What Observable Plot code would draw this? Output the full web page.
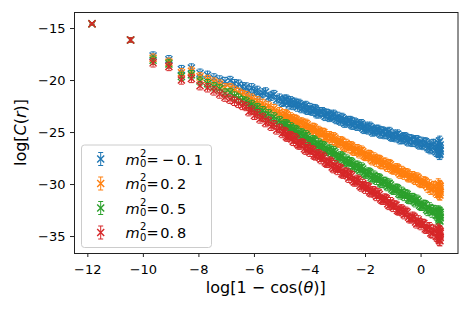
<!DOCTYPE html>
<html><head><meta charset="utf-8">
<script src="https://cdn.jsdelivr.net/npm/d3@7"></script>
<script src="https://cdn.jsdelivr.net/npm/@observablehq/plot@0.6"></script>
<style>body{margin:0;background:#fff}</style>
</head><body><div id="chart"></div>
<script>
// x = log[1 - cos(theta)] sample positions (shared by all series)
const xs = [
  -11.85,-10.46,-9.65,-9.08,-8.63,-8.27,-7.96,-7.69,-7.46,-7.25,-7.06,-6.88,-6.72,-6.57,-6.43,
  -6.3,-6.2,-6.1,-6.0,-5.9,-5.8,-5.7,-5.6,-5.5,-5.4,
  -5.3,-5.2,-5.1,-5.0,-4.9,-4.8,-4.7,-4.6,-4.5,-4.4,
  -4.3,-4.2,-4.1,-4.0,-3.9,-3.8,-3.7,-3.6,-3.5,-3.4,
  -3.3,-3.2,-3.1,-3.0,-2.9,-2.8,-2.7,-2.6,-2.5,-2.4,
  -2.3,-2.2,-2.1,-2.0,-1.9,-1.8,-1.7,-1.6,-1.5,-1.4,
  -1.3,-1.2,-1.1,-1.0,-0.9,-0.8,-0.7,-0.6,-0.5,-0.4,
  -0.3,-0.2,-0.1,0.0,0.1,0.2,0.3,0.4,0.5,0.6,
  0.62,0.64,0.65,0.66,0.67,0.68,0.68,0.69,0.69,0.69,
  -4.95,-4.85,-4.75,-4.65,-4.55,-4.45,-4.35,-4.25,-4.15,-4.05,
  -3.95,-3.85,-3.75,-3.65,-3.55,-3.45,-3.35,-3.25,-3.15,-3.05,
  -2.95,-2.85,-2.75,-2.65,-2.55,-2.45,-2.35,-2.25,-2.15,-2.05,
  -1.95,-1.85,-1.75,-1.65,-1.55,-1.45,-1.35,-1.25,-1.15,-1.05,
  -0.95,-0.85,-0.75,-0.65,-0.55,-0.45,-0.35,-0.25,-0.15,-0.05,
  0.05,0.15,0.25,0.35,0.45,0.55
];
// error bar half-lengths
const yerr = [
  0.1,0.2,0.4,0.4,0.4,0.4,0.4,0.4,0.4,0.4,0.4,0.4,0.4,0.4,0.4,
  0.4,0.4,0.4,0.4,0.4,0.4,0.4,0.4,0.4,0.4,
  0.4,0.4,0.4,0.4,0.4,0.4,0.4,0.4,0.4,0.4,
  0.4,0.4,0.4,0.4,0.4,0.4,0.4,0.4,0.4,0.4,
  0.4,0.4,0.4,0.4,0.4,0.4,0.4,0.4,0.4,0.4,
  0.4,0.4,0.4,0.4,0.4,0.4,0.4,0.4,0.4,0.4,
  0.4,0.4,0.4,0.4,0.4,0.4,0.4,0.4,0.4,0.4,
  0.4,0.4,0.4,0.4,0.4,0.4,0.45,0.45,0.45,0.45,
  0.5,0.5,0.5,0.5,0.5,0.5,0.5,0.5,0.5,0.5,
  0.4,0.4,0.4,0.4,0.4,0.4,0.4,0.4,0.4,0.4,
  0.4,0.4,0.4,0.4,0.4,0.4,0.4,0.4,0.4,0.4,
  0.4,0.4,0.4,0.4,0.4,0.4,0.4,0.4,0.4,0.4,
  0.4,0.4,0.4,0.4,0.4,0.4,0.4,0.4,0.4,0.4,
  0.4,0.4,0.4,0.4,0.4,0.4,0.4,0.4,0.4,0.4,
  0.4,0.4,0.45,0.45,0.45,0.45
];
// log C(r) for m0^2 = -0.1
const yA = [
  -14.55,-16.1,-17.65,-18.0,-18.95,-18.8,-19.3,-19.5,-19.75,-19.95,-20.1,-20.0,-20.3,-20.35,-20.6,
  -20.62,-21.0,-20.7,-21.05,-20.95,-21.4,-21.2,-21.1,-21.6,-21.5,
  -21.35,-21.85,-21.7,-22.1,-21.8,-22.1,-21.95,-22.4,-22.25,-22.2,
  -22.7,-22.5,-22.85,-22.6,-22.95,-22.75,-23.2,-23.0,-23.3,-23.15,
  -23.55,-23.35,-23.6,-23.45,-23.9,-23.7,-24.05,-23.85,-24.25,-24.0,
  -24.4,-24.2,-24.55,-24.4,-24.75,-24.55,-24.9,-24.7,-25.05,-24.85,
  -25.2,-25.0,-25.35,-25.15,-25.5,-25.3,-25.65,-25.4,-25.8,-25.6,
  -25.95,-25.7,-26.1,-25.85,-26.25,-26.0,-26.5,-26.15,-26.7,-26.3,
  -26.0,-26.9,-26.4,-27.1,-25.85,-26.7,-27.05,-26.2,-26.8,-26.55,
  -22.0,-21.8,-22.35,-22.1,-22.1,-22.55,-22.35,-22.6,-22.4,-22.85,
  -22.9,-22.7,-23.2,-23.0,-23.0,-23.45,-23.2,-23.45,-23.25,-23.75,
  -23.8,-23.55,-24.1,-23.9,-23.85,-24.3,-24.1,-24.35,-24.15,-24.7,
  -24.65,-24.4,-24.95,-24.75,-24.7,-25.15,-24.9,-25.15,-24.9,-25.45,
  -25.4,-25.15,-25.7,-25.5,-25.45,-25.9,-25.65,-25.9,-25.7,-26.2,
  -26.15,-25.9,-26.45,-26.6,-26.1,-26.85
];
// m0^2 = 0.2
const yB = [
  -14.55,-16.1,-17.85,-18.25,-19.25,-19.1,-19.65,-19.9,-20.15,-20.35,-20.7,-20.7,-20.95,-21.15,-21.35,
  -21.45,-21.9,-21.7,-22.15,-21.95,-22.4,-22.2,-22.65,-22.45,-22.9,
  -22.7,-23.15,-23.0,-23.45,-23.2,-23.65,-23.5,-23.95,-23.75,-24.2,
  -24.0,-24.45,-24.25,-24.75,-24.5,-24.95,-24.8,-25.25,-25.0,-25.5,
  -25.3,-25.75,-25.55,-26.0,-25.8,-26.3,-26.05,-26.55,-26.3,-26.8,
  -26.55,-27.05,-26.85,-27.3,-27.1,-27.55,-27.35,-27.85,-27.6,-28.1,
  -27.85,-28.35,-28.1,-28.6,-28.4,-28.85,-28.65,-29.1,-28.9,-29.35,
  -29.15,-29.6,-29.4,-29.9,-29.65,-30.1,-30.0,-30.45,-30.2,-30.7,
  -29.95,-30.8,-30.3,-30.95,-30.1,-30.6,-31.0,-30.4,-30.75,-30.2,
  -23.43,-23.26,-23.84,-23.67,-23.7,-24.18,-24.01,-24.29,-24.12,-24.64,
  -24.72,-24.55,-25.13,-24.96,-24.99,-25.47,-25.3,-25.58,-25.41,-25.93,
  -26.01,-25.84,-26.42,-26.25,-26.28,-26.76,-26.59,-26.87,-26.7,-27.22,
  -27.3,-27.13,-27.71,-27.54,-27.57,-28.05,-27.88,-28.16,-27.99,-28.51,
  -28.59,-28.42,-29.0,-28.83,-28.86,-29.34,-29.17,-29.45,-29.28,-29.8,
  -29.88,-29.71,-30.29,-30.5,-30.15,-30.8
];
// m0^2 = 0.5
const yC = [
  -14.55,-16.1,-18.05,-18.4,-19.6,-19.45,-20.05,-20.3,-20.6,-20.8,-21.2,-21.15,-21.5,-21.7,-21.95,
  -22.0,-22.45,-22.3,-22.75,-22.6,-23.1,-22.9,-23.4,-23.2,-23.7,
  -23.5,-24.0,-23.85,-24.35,-24.15,-24.65,-24.45,-24.95,-24.75,-25.25,
  -25.05,-25.55,-25.4,-25.9,-25.7,-26.2,-26.0,-26.5,-26.3,-26.8,
  -26.6,-27.1,-26.95,-27.45,-27.25,-27.75,-27.55,-28.05,-27.85,-28.35,
  -28.15,-28.65,-28.5,-29.0,-28.8,-29.3,-29.1,-29.6,-29.4,-29.9,
  -29.7,-30.2,-30.05,-30.55,-30.35,-30.85,-30.65,-31.15,-30.95,-31.45,
  -31.25,-31.75,-31.6,-32.1,-31.9,-32.4,-32.2,-32.7,-32.5,-33.0,
  -32.55,-33.3,-32.8,-33.45,-32.65,-33.1,-33.5,-32.9,-33.2,-32.7,
  -24.33,-24.19,-24.79,-24.65,-24.7,-25.21,-25.06,-25.37,-25.22,-25.78,
  -25.88,-25.74,-26.34,-26.2,-26.25,-26.76,-26.61,-26.92,-26.77,-27.33,
  -27.43,-27.29,-27.89,-27.75,-27.8,-28.31,-28.16,-28.47,-28.32,-28.88,
  -28.98,-28.84,-29.44,-29.3,-29.35,-29.86,-29.71,-30.02,-29.87,-30.43,
  -30.53,-30.39,-30.99,-30.85,-30.9,-31.41,-31.26,-31.57,-31.42,-31.98,
  -32.08,-31.94,-32.54,-32.4,-32.45,-32.96
];
// m0^2 = 0.8
const yD = [
  -14.55,-16.1,-18.3,-18.65,-19.95,-19.8,-20.5,-20.7,-21.0,-21.3,-21.6,-21.8,-22.0,-22.2,-22.4,
  -22.5,-23.0,-22.85,-23.35,-23.2,-23.7,-23.55,-24.05,-23.9,-24.4,
  -24.25,-24.75,-24.6,-25.1,-24.95,-25.45,-25.3,-25.85,-25.65,-26.2,
  -26.0,-26.55,-26.35,-26.9,-26.7,-27.25,-27.05,-27.6,-27.4,-27.95,
  -27.75,-28.3,-28.1,-28.65,-28.45,-29.0,-28.8,-29.4,-29.15,-29.75,
  -29.5,-30.1,-29.9,-30.45,-30.25,-30.8,-30.6,-31.15,-30.95,-31.5,
  -31.3,-31.85,-31.65,-32.2,-32.0,-32.55,-32.35,-32.9,-32.7,-33.3,
  -33.05,-33.6,-33.4,-33.95,-33.75,-34.3,-34.1,-34.7,-34.45,-35.05,
  -34.3,-35.2,-34.6,-35.35,-34.45,-34.95,-35.4,-34.7,-35.1,-34.55,
  -24.89,-25.41,-25.29,-25.62,-25.49,-26.07,-26.2,-26.07,-26.7,-26.58,
  -26.66,-27.18,-27.06,-27.39,-27.26,-27.84,-27.97,-27.84,-28.47,-28.35,
  -28.43,-28.95,-28.83,-29.16,-29.03,-29.61,-29.74,-29.61,-30.24,-30.12,
  -30.2,-30.72,-30.6,-30.93,-30.8,-31.38,-31.51,-31.38,-32.01,-31.89,
  -31.97,-32.49,-32.37,-32.7,-32.57,-33.15,-33.28,-33.15,-33.78,-33.66,
  -33.74,-34.26,-34.14,-34.65,-34.34,-35.0
];
const m0sq = ["\u22120.1", "0.2", "0.5", "0.8"];
const colors = ["#1f77b4", "#ff7f0e", "#2ca02c", "#d62728"];
const xTicks = [-12, -10, -8, -6, -4, -2, 0];
const yTicks = [-35, -30, -25, -20, -15];

const seriesY = [yA, yB, yC, yD];
const series = seriesY.map((ys, k) => ({
  color: colors[k],
  rows: xs.map((x, i) => ({x, y: ys[i], lo: ys[i] - yerr[i], hi: ys[i] + yerr[i]}))
}));

const capSymbol = {draw(ctx, size) { const r = Math.sqrt(size / Math.PI); ctx.moveTo(-r, 0); ctx.lineTo(r, 0); }};
const fmt = d => d < 0 ? "\u2212" + Math.abs(d) : String(d);

const W = 469, H = 313, ML = 74, MR = 11.5, MT = 12, MB = 60;
const svg = Plot.plot({
  width: W, height: H,
  marginLeft: ML, marginRight: MR, marginTop: MT, marginBottom: MB,
  style: {fontFamily: "DejaVu Sans", fontSize: "13px", color: "#000", background: "#fff", overflow: "visible"},
  x: {domain: [-12.48, 1.33]},
  y: {domain: [-36.63, -13.46]},
  marks: [
    ...series.flatMap(s => [
      Plot.ruleX(s.rows, {x: "x", y1: "lo", y2: "hi", stroke: s.color, strokeWidth: 1}),
      Plot.dot(s.rows, {x: "x", y: "hi", symbol: capSymbol, r: 2.5, stroke: s.color, fill: "none", strokeWidth: 1}),
      Plot.dot(s.rows, {x: "x", y: "lo", symbol: capSymbol, r: 2.5, stroke: s.color, fill: "none", strokeWidth: 1}),
      Plot.dot(s.rows, {x: "x", y: "y", symbol: "times", r: 3.3, stroke: s.color, strokeWidth: 1.4})
    ]),
    Plot.axisX({ticks: xTicks, tickSize: 4, tickPadding: 7, tickFormat: fmt, label: null, stroke: "#222"}),
    Plot.axisY({ticks: yTicks, tickSize: 4, tickPadding: 5, tickFormat: fmt, label: null, stroke: "#222"}),
    Plot.frame({stroke: "#222", strokeWidth: 1})
  ]
});
document.getElementById("chart").appendChild(svg);

const g = d3.select(svg).append("g").attr("font-family", "DejaVu Sans").attr("fill", "#000");
// x label
const xl = g.append("text").attr("x", (ML + W - MR) / 2).attr("y", 292.5)
  .attr("text-anchor", "middle").attr("font-size", 16);
xl.append("tspan").text("log[1 \u2212 cos(");
xl.append("tspan").attr("font-style", "italic").text("\u03b8");
xl.append("tspan").text(")]");
// y label
const yl = g.append("text").attr("transform", `translate(26,${(MT + H - MB) / 2}) rotate(-90)`)
  .attr("text-anchor", "middle").attr("font-size", 16);
yl.append("tspan").text("log[");
yl.append("tspan").attr("font-style", "italic").text("C");
yl.append("tspan").text("(");
yl.append("tspan").attr("font-style", "italic").text("r");
yl.append("tspan").text(")]");

// legend
const lg = g.append("g").attr("text-anchor", "start");
lg.append("rect").attr("x", 81.5).attr("y", 145).attr("width", 130).attr("height", 102.5)
  .attr("rx", 3).attr("fill", "#fff").attr("fill-opacity", 0.8).attr("stroke", "#cccccc").attr("stroke-width", 1);
const rowsY = [159, 183.5, 208, 232.5];
m0sq.forEach((lab, k) => {
  const yy = rowsY[k], xx = 100.7, c = colors[k];
  lg.append("line").attr("x1", xx).attr("x2", xx).attr("y1", yy - 6.5).attr("y2", yy + 6.5).attr("stroke", c).attr("stroke-width", 1);
  lg.append("line").attr("x1", xx - 2.5).attr("x2", xx + 2.5).attr("y1", yy - 6.5).attr("y2", yy - 6.5).attr("stroke", c).attr("stroke-width", 1);
  lg.append("line").attr("x1", xx - 2.5).attr("x2", xx + 2.5).attr("y1", yy + 6.5).attr("y2", yy + 6.5).attr("stroke", c).attr("stroke-width", 1);
  lg.append("path").attr("d", `M${xx-3.5},${yy-3.5}L${xx+3.5},${yy+3.5}M${xx-3.5},${yy+3.5}L${xx+3.5},${yy-3.5}`)
    .attr("stroke", c).attr("stroke-width", 1.4).attr("fill", "none");
  lg.append("text").attr("text-anchor", "start").attr("x", 125.5).attr("y", yy + 5.5).attr("font-size", 14.5).attr("font-style", "italic").text("m");
  lg.append("text").attr("text-anchor", "start").attr("x", 140).attr("y", yy - 2.5).attr("font-size", 10).text("2");
  lg.append("text").attr("text-anchor", "start").attr("x", 140).attr("y", yy + 8).attr("font-size", 10).text("0");
  const t = lg.append("text").attr("text-anchor", "start").attr("x", 146.5).attr("y", yy + 5.5).attr("font-size", 14.5);
  t.append("tspan").text("=");
  const neg = lab.startsWith("\u2212");
  const num = neg ? lab.slice(1) : lab;
  const [ip, fp] = num.split(".");
  if (neg) {
    t.append("tspan").attr("dx", 3).text("\u2212");
    t.append("tspan").attr("dx", 3).text(ip + ".");
  } else {
    t.append("tspan").attr("dx", 1.5).text(ip + ".");
  }
  t.append("tspan").attr("dx", 3).text(fp);
});
</script>
</body></html>
